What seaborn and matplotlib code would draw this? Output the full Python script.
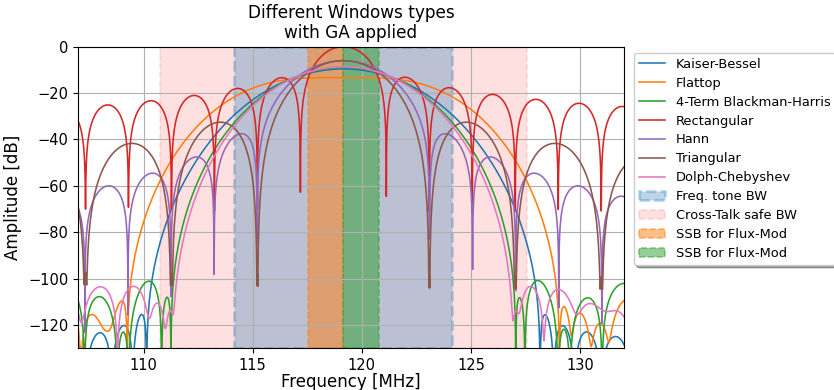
import numpy as np
import pandas as pd
import matplotlib
matplotlib.use("Agg")
import matplotlib.pyplot as plt
import seaborn as sns

# Windows compared, in drawing / legend order
window_names = ["Kaiser-Bessel", "Flattop", "4-Term Blackman-Harris",
                "Rectangular", "Hann", "Triangular", "Dolph-Chebyshev"]
kaiser_beta = 14.0
chebyshev_attenuation_db = 100.0
flattop_coeffs = [0.21557895, 0.41663158, 0.277263158, 0.083578947, 0.006947368]
blackman_harris_coeffs = [0.35875, 0.48829, 0.14128, 0.01168]

# Tone and acquisition settings
tone_mhz = 119.15
sample_rate_mhz = 1000.0
n_samples = 508
freq_min_mhz, freq_max_mhz = 107.0, 132.0

# Frequency bands shaded behind the spectra
band_labels = ["Freq. tone BW", "Cross-Talk safe BW",
               "SSB for Flux-Mod", "SSB for Flux-Mod"]
band_start_mhz = [114.14, 110.74, 117.54, 119.14]
band_stop_mhz = [124.14, 127.54, 119.14, 120.76]


def cosine_sum(m, coeffs):
    fac = np.linspace(-np.pi, np.pi, m)
    return sum(a * np.cos(k * fac) for k, a in enumerate(coeffs))


def triangular(m):
    n = np.arange(1, (m + 1) // 2 + 1)
    if m % 2 == 0:
        w = (2 * n - 1.0) / m
        return np.r_[w, w[::-1]]
    w = 2 * n / (m + 1.0)
    return np.r_[w, w[-2::-1]]


def chebyshev(m, at):
    order = m - 1.0
    beta = np.cosh(np.arccosh(10 ** (abs(at) / 20.0)) / order)
    k = np.arange(m) * 1.0
    x = beta * np.cos(np.pi * k / m)
    p = np.zeros(x.shape)
    p[x > 1] = np.cosh(order * np.arccosh(x[x > 1]))
    p[x < -1] = (2 * (m % 2) - 1) * np.cosh(order * np.arccosh(-x[x < -1]))
    inside = np.abs(x) <= 1
    p[inside] = np.cos(order * np.arccos(x[inside]))
    if m % 2:
        w = np.real(np.fft.fft(p))
        h = (m + 1) // 2
        w = w[:h]
        w = np.concatenate((w[h - 1:0:-1], w))
    else:
        p = p * np.exp(1j * np.pi / m * np.arange(m))
        w = np.real(np.fft.fft(p))
        h = m // 2 + 1
        w = np.concatenate((w[h - 1:0:-1], w[1:h]))
    return w / w.max()


windows = [
    np.kaiser(n_samples, kaiser_beta),
    cosine_sum(n_samples, flattop_coeffs),
    cosine_sum(n_samples, blackman_harris_coeffs),
    np.ones(n_samples),
    np.hanning(n_samples),
    triangular(n_samples),
    chebyshev(n_samples, chebyshev_attenuation_db),
]

# Windowed tone spectra, normalised to the rectangular-window peak
n = np.arange(n_samples)
tone = np.cos(2 * np.pi * tone_mhz * n / sample_rate_mhz)
nfft = 2 ** 18
freqs = np.fft.rfftfreq(nfft, d=1.0 / sample_rate_mhz)
sel = (freqs >= freq_min_mhz) & (freqs <= freq_max_mhz)

frames = []
for name, w in zip(window_names, windows):
    mag = np.abs(np.fft.rfft(w * tone, nfft))[sel] / (n_samples / 2.0)
    frames.append(pd.DataFrame({
        "Frequency": freqs[sel],
        "Amplitude": 20 * np.log10(np.maximum(mag, 1e-12)),
        "Window": name,
    }))
spectra = pd.concat(frames, ignore_index=True)

fig = plt.figure(figsize=(8.34, 3.9), dpi=100)
ax = fig.add_axes([0.0935, 0.107, 0.6547, 0.7733])

palette = sns.color_palette("tab10", 10)
band_styles = [
    dict(color=palette[0], alpha=0.3, lw=2.0),
    dict(color="red", alpha=0.12, lw=1.2),
    dict(color=palette[1], alpha=0.5, lw=1.2),
    dict(color=palette[2], alpha=0.5, lw=1.2),
]
band_patches = [None] * len(band_labels)
for i in [1, 0, 2, 3]:
    st = band_styles[i]
    band_patches[i] = ax.axvspan(band_start_mhz[i], band_stop_mhz[i],
                                 facecolor=st["color"], edgecolor=st["color"],
                                 alpha=st["alpha"], linestyle="--",
                                 linewidth=st["lw"], label=band_labels[i])

sns.lineplot(data=spectra, x="Frequency", y="Amplitude", hue="Window",
             hue_order=window_names, palette=palette[:7], estimator=None,
             sort=False, linewidth=1.15, legend=False, ax=ax)

ax.set_xlim(freq_min_mhz, freq_max_mhz)
ax.set_ylim(-130, 0)
ax.grid(True, color="#b0b0b0", linewidth=0.8)
ax.tick_params(labelsize=10.5)
ax.set_xlabel("Frequency [MHz]", fontsize=12, labelpad=0)
ax.set_ylabel("Amplitude [dB]", fontsize=12)
ax.set_title("Different Windows types\nwith GA applied", fontsize=12.2)

line_handles = list(ax.get_lines())[:len(window_names)]
ax.legend(handles=line_handles + band_patches,
          labels=window_names + band_labels,
          loc="upper left", bbox_to_anchor=(1.018, 0.98), borderaxespad=0,
          fontsize=9.4, labelspacing=0.45, shadow=True)

fig.savefig("out.png", dpi=100)
